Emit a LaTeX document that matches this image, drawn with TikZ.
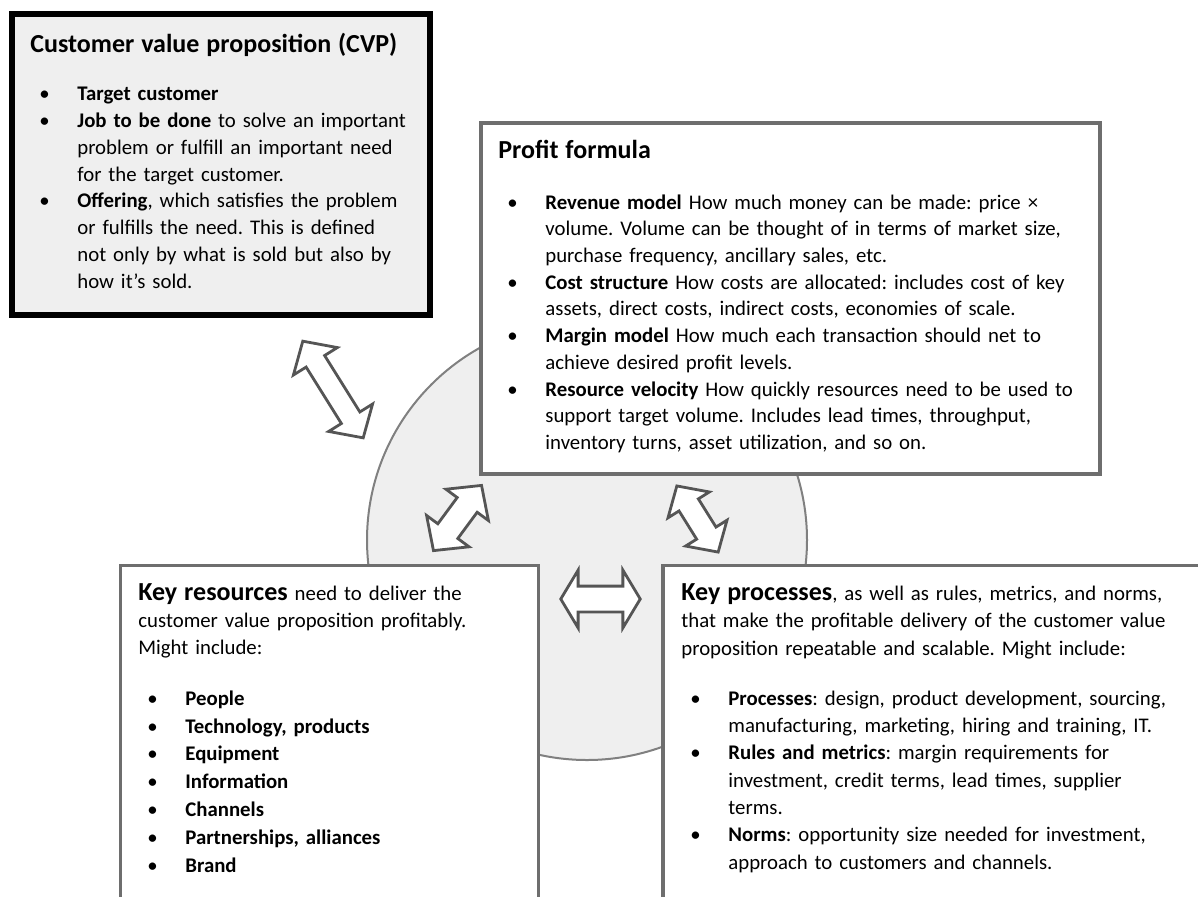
\documentclass[tikz,border=0pt]{standalone}
\usepackage{fontspec}
\setmainfont{Carlito}
\usetikzlibrary{shapes.arrows}
\definecolor{panelgray}{HTML}{EFEFEF}
\definecolor{edgegray}{HTML}{6E6E6E}
\definecolor{arrowgray}{HTML}{555555}
\setlength\parindent{0pt}
\newlength\bulletin
\setlength\bulletin{23.5pt}
\newcommand\hd{\fontsize{13}{15}\selectfont\bfseries}
\newcommand\bd[1]{\fontsize{10.4}{#1}\selectfont\frenchspacing}
\newcommand\firstline{\rule{0pt}{10pt}}
\newcommand\bitem[1]{\par\hangindent=\bulletin\hangafter=0\noindent\llap{\makebox[\dimexpr\bulletin-4.5pt\relax][l]{\textbullet}}#1\par}

\begin{document}
\begin{tikzpicture}[x=0.5pt,y=-0.5pt,
  panel/.style={rectangle, draw=edgegray, line width=1.75pt, fill=white, inner sep=0pt},
  txt/.style={anchor=north west, inner sep=0pt, align=left},
  twoway/.style={double arrow, draw=arrowgray, fill=white, line width=1.4pt, inner xsep=0pt, double arrow tip angle=95}]

  \clip (0,0) rectangle (1198,896);
  \fill [white] (0,0) rectangle (1198,896);

  % the shared core
  \node (core) [circle, draw=gray, line width=1pt, fill=panelgray, minimum size=220pt, inner sep=0pt] at (587,540) {};

  % the four building blocks
  \node (cvp) [panel, draw=black, line width=3pt, fill=panelgray, minimum width=208.75pt, minimum height=150.5pt] at (220.75,164.5) {};
  \node (profit) [panel, minimum width=309.5pt, minimum height=175.5pt] at (790.5,298.5) {};
  \node (resources) [panel, minimum width=209pt, minimum height=177.25pt] at (329.5,742.75) {};
  \node (processes) [panel, minimum width=278.5pt, minimum height=177.25pt] at (941.5,742.75) {};

  \node (cvptext) [txt, text width=240pt, font={\bd{13.45pt}}] at (30,32) {\firstline{\hd Customer value proposition (CVP)\par}\vspace{10.5pt}
    \bitem{\textbf{Target customer}}
    \bitem{\textbf{Job to be done} to solve an important\newline problem or fulfill an important need\newline for the target customer.}
    \bitem{\textbf{Offering}, which satisfies the problem\newline or fulfills the need. This is defined\newline not only by what is sold but also by\newline how it’s sold.}};

  \node (profittext) [txt, text width=340pt, font={\bd{13.35pt}}] at (498,138) {\firstline{\hd Profit formula\par}\vspace{12pt}
    \bitem{\textbf{Revenue model} How much money can be made: price ×\newline volume. Volume can be thought of in terms of market size,\newline purchase frequency, ancillary sales, etc.}
    \bitem{\textbf{Cost structure} How costs are allocated: includes cost of key\newline assets, direct costs, indirect costs, economies of scale.}
    \bitem{\textbf{Margin model} How much each transaction should net to\newline achieve desired profit levels.}
    \bitem{\textbf{Resource velocity} How quickly resources need to be used to\newline support target volume. Includes lead times, throughput,\newline inventory turns, asset utilization, and so on.}};

  \node (resourcestext) [txt, text width=240pt, font={\bd{13.5pt}}] at (138,580) {\firstline{\hd Key resources} need to deliver the\newline customer value proposition profitably.\newline Might include:\par\vspace{11.5pt}\baselineskip=13.9pt
    \bitem{\textbf{People}}
    \bitem{\textbf{Technology, products}}
    \bitem{\textbf{Equipment}}
    \bitem{\textbf{Information}}
    \bitem{\textbf{Channels}}
    \bitem{\textbf{Partnerships, alliances}}
    \bitem{\textbf{Brand}}};

  \node (processestext) [txt, text width=300pt, font={\bd{13.65pt}}] at (681,580) {\firstline{\hd Key processes}, as well as rules, metrics, and norms,\newline that make the profitable delivery of the customer value\newline proposition repeatable and scalable. Might include:\par\vspace{11.5pt}
    \bitem{\textbf{Processes}: design, product development, sourcing,\newline manufacturing, marketing, hiring and training, IT.}
    \bitem{\textbf{Rules and metrics}: margin requirements for\newline investment, credit terms, lead times, supplier\newline terms.}
    \bitem{\textbf{Norms}: opportunity size needed for investment,\newline approach to customers and channels.}};

  % two-way links
  \node (cvpcore) [twoway, minimum height=57pt, inner ysep=4.75pt, double arrow head extend=7.5pt, rotate=-58] at (333,389.5) {};
  \node (rescore) [twoway, minimum height=40.5pt, inner ysep=5.5pt, double arrow head extend=7pt, rotate=53.6] at (457.5,518) {};
  \node (procore) [twoway, minimum height=39pt, inner ysep=5pt, double arrow head extend=6.5pt, rotate=-58] at (697.5,519) {};
  \node (resproc) [twoway, minimum height=39.75pt, inner ysep=5.75pt, double arrow head extend=8pt, double arrow tip angle=118] at (600.5,599) {};

\end{tikzpicture}
\end{document}
